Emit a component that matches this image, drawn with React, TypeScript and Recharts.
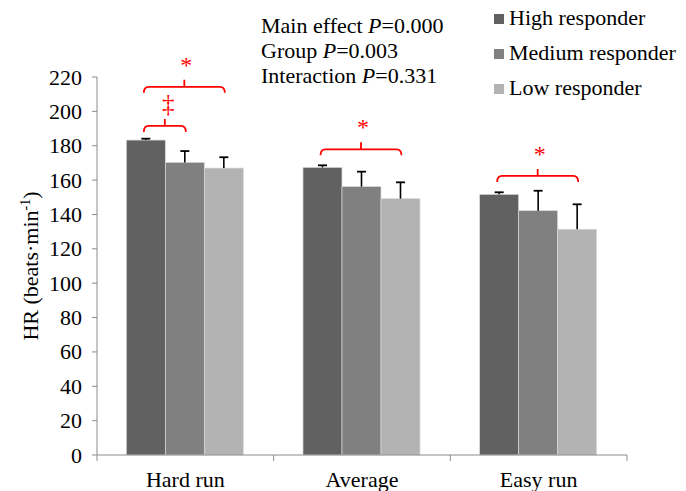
import React from 'react';
import { BarChart, Bar, XAxis, YAxis, Legend } from 'recharts';

const categories = ['Hard run', 'Average', 'Easy run'];
const seriesNames = ['High responder', 'Medium responder', 'Low responder'];
const highValues = [183.3, 167.4, 151.7];
const mediumValues = [170.3, 156.2, 142.2];
const lowValues = [167.0, 149.2, 131.4];
const highErrors = [0.8, 1.2, 1.2];
const mediumErrors = [6.6, 8.7, 11.6];
const lowErrors = [6.3, 9.5, 14.5];
const yTicks = [0, 20, 40, 60, 80, 100, 120, 140, 160, 180, 200, 220];
const statLines = [
  ['Main effect ', 'P', '=0.000'],
  ['Group ', 'P', '=0.003'],
  ['Interaction ', 'P', '=0.331'],
];

// significance brackets: group, first and last bar in the group, height in beats/min, mark
const brackets = [
  { group: 0, from: 0, to: 2, level: 214.3, mark: '*' },
  { group: 0, from: 0, to: 1, level: 191.5, mark: '‡' },
  { group: 1, from: 0, to: 2, level: 177.9, mark: '*' },
  { group: 2, from: 0, to: 2, level: 162.4, mark: '*' },
];

const data = categories.map((name, i) => ({
  name,
  high: highValues[i],
  medium: mediumValues[i],
  low: lowValues[i],
  highErr: highErrors[i],
  mediumErr: mediumErrors[i],
  lowErr: lowErrors[i],
}));

const FONT = '"Liberation Serif", "Times New Roman", serif';
const AXIS = '#8c8c8c';
const RED = '#ff0000';
const FS = 22;

const makeShape = (key: string, withBrackets: boolean) => (props: any) => {
  const { x, y, width, height, fill, payload, index } = props;
  const v = payload[key];
  const k = v ? height / v : 0;
  const err = payload[key + 'Err'] * k;
  const cx = x + width / 2;
  const base = y + height;
  return (
    <g>
      <rect x={x} y={y} width={width} height={height} fill={fill} stroke="#d9d9d9" strokeWidth={0.7} />
      <line x1={cx} x2={cx} y1={y} y2={y - err} stroke="#000" strokeWidth={1.6} />
      <line x1={cx - 4.5} x2={cx + 4.5} y1={y - err} y2={y - err} stroke="#000" strokeWidth={1.8} />
      {withBrackets &&
        brackets
          .filter((b) => b.group === index)
          .map((b, j) => {
            const x1 = x + width * (b.from + 0.5) - 2;
            const x2 = x + width * (b.to + 0.5) + 1;
            const py = base - b.level * k;
            const mid = (x1 + x2) / 2;
            const d = `M ${x1} ${py + 6} Q ${x1} ${py} ${x1 + 5} ${py} L ${x2 - 5} ${py} Q ${x2} ${py} ${x2} ${py + 6} M ${mid} ${py} L ${mid} ${py - 7}`;
            return (
              <g key={j}>
                <path d={d} fill="none" stroke={RED} strokeWidth={1.8} />
                {b.mark === '*' ? (
                  <text x={mid + 2} y={py - 14} textAnchor="middle" fontSize={24} fontFamily={FONT} fill={RED}>
                    *
                  </text>
                ) : (
                  <text x={mid + 3.5} y={py - 14} textAnchor="middle" fontSize={25} fontFamily={FONT} fill={RED}>
                    {b.mark}
                  </text>
                )}
              </g>
            );
          })}
    </g>
  );
};

const CategoryTick = (props: any) => {
  const { x, y, payload, index, width, visibleTicksCount } = props;
  const half = (width || 530) / (visibleTicksCount || 3) / 2;
  return (
    <g>
      {index === 0 && <line x1={x - half} x2={x - half} y1={y} y2={y + 6} stroke={AXIS} />}
      <line x1={x + half} x2={x + half} y1={y} y2={y + 6} stroke={AXIS} />
      <text x={x} y={y + 32} textAnchor="middle" fontSize={FS} fontFamily={FONT} fill="#000">
        {payload.value}
      </text>
    </g>
  );
};

const ValueTick = (props: any) => {
  const { x, y, payload } = props;
  return (
    <text x={x} y={y} dy={7.5} textAnchor="end" fontSize={FS} fontFamily={FONT} fill="#000">
      {payload.value}
    </text>
  );
};

const YLabel = (props: any) => {
  const vb = props.viewBox || { x: 40, y: 77, height: 378 };
  const cx = vb.x - 2;
  const cy = vb.y + vb.height / 2;
  return (
    <text
      x={cx}
      y={cy}
      transform={`rotate(-90 ${cx} ${cy})`}
      textAnchor="middle"
      fontSize={FS}
      fontFamily={FONT}
      fill="#000"
    >
      HR (beats·min
      <tspan dy={-8} fontSize={14}>
        -1
      </tspan>
      <tspan dy={8}>)</tspan>
    </text>
  );
};

const renderLegend = (props: any) => {
  const items = [...(props.payload || [])].sort(
    (a: any, b: any) => seriesNames.indexOf(a.value) - seriesNames.indexOf(b.value)
  );
  return (
    <div style={{ fontFamily: FONT, fontSize: FS, color: '#000' }}>
      {items.map((entry: any) => (
        <div key={entry.value} style={{ display: 'flex', alignItems: 'center', height: 35, whiteSpace: 'nowrap' }}>
          <span style={{ display: 'inline-block', width: 10, height: 10, background: entry.color, marginRight: 5, marginTop: 3 }} />
          {entry.value}
        </div>
      ))}
    </div>
  );
};

export default function App() {
  return (
    <div style={{ position: 'absolute', left: 0, top: 0, width: 686, height: 491, background: '#fff' }}>
      <BarChart
        width={686}
        height={491}
        data={data}
        margin={{ top: 77, right: 59, bottom: 6, left: 40 }}
        barCategoryGap="16.6%"
        barGap={0}
      >
        <XAxis
          dataKey="name"
          height={30}
          stroke={AXIS}
          tickLine={false}
          tickSize={0}
          tickMargin={0}
          tick={<CategoryTick />}
          interval={0}
        />
        <YAxis
          width={57}
          domain={[0, 220]}
          ticks={yTicks}
          interval={0}
          stroke={AXIS}
          tickSize={5}
          tickMargin={10}
          tick={<ValueTick />}
          label={{ content: <YLabel /> }}
        />
        <Legend
          layout="vertical"
          align="center"
          verticalAlign="middle"
          wrapperStyle={{ top: 0, left: 494, width: 200 }}
          content={renderLegend}
        />
        <Bar dataKey="high" name={seriesNames[0]} fill="#616161" shape={makeShape('high', true)} isAnimationActive={false} />
        <Bar dataKey="medium" name={seriesNames[1]} fill="#808080" shape={makeShape('medium', false)} isAnimationActive={false} />
        <Bar dataKey="low" name={seriesNames[2]} fill="#b3b3b3" shape={makeShape('low', false)} isAnimationActive={false} />
      </BarChart>
      <svg width={686} height={100} style={{ position: 'absolute', left: 0, top: 0, pointerEvents: 'none' }}>
        {statLines.map((line, i) => (
          <text key={i} x={261} y={33 + i * 25} fontSize={FS} fontFamily={FONT} fill="#000">
            {line[0]}
            <tspan fontStyle="italic">{line[1]}</tspan>
            {line[2]}
          </text>
        ))}
      </svg>
    </div>
  );
}
